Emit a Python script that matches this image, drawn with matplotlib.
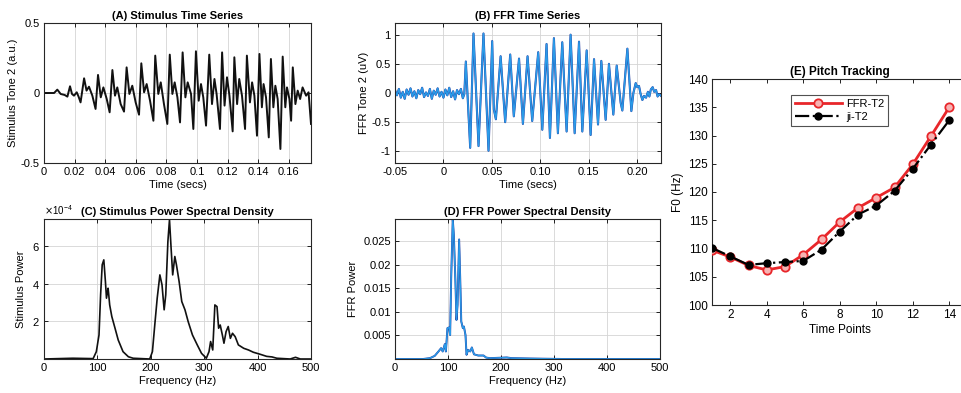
### Stimulus / FFR figure: time series, power spectra and pitch tracking

import numpy as np
import matplotlib.pyplot as plt
from matplotlib.ticker import ScalarFormatter

plt.rcParams['font.family'] = ['Liberation Sans', 'DejaVu Sans']

### DATA ###

# (A) stimulus waveform: key points (secs, a.u.)
stim_t = [0.0, 0.0066, 0.0087, 0.0109, 0.0135, 0.0153, 0.0170, 0.0183, 0.0196, 0.0214, 0.0226, 0.0239,
          0.0262, 0.0278, 0.0294, 0.0316, 0.0337, 0.0353, 0.0371, 0.0388, 0.0410, 0.0429, 0.0447, 0.0464,
          0.0479, 0.0501, 0.0523, 0.0540, 0.0558, 0.0577, 0.0599, 0.0621, 0.0636, 0.0654, 0.0671, 0.0693,
          0.0715, 0.0727, 0.0747, 0.0763, 0.0784, 0.0806, 0.0822, 0.0839, 0.0854, 0.0872,
          0.0889, 0.0906, 0.0924, 0.0939, 0.0961, 0.0976, 0.0993, 0.1011, 0.1026, 0.1041, 0.1059, 0.1080,
          0.1098, 0.1114, 0.1128, 0.1150, 0.1164, 0.1180, 0.1196, 0.1212, 0.1233, 0.1244, 0.1262, 0.1276,
          0.1294, 0.1314, 0.1326, 0.1346, 0.1360, 0.1375, 0.1392, 0.1408, 0.1424, 0.1435, 0.1451, 0.1469,
          0.1483, 0.1499, 0.1512, 0.1527, 0.1545, 0.1560, 0.1577, 0.1588, 0.1604, 0.1615, 0.1626, 0.1643,
          0.1658, 0.1674, 0.1690, 0.1713, 0.1729, 0.1745]
stim_v = [0.0, 0.0, 0.024, -0.007, -0.014, -0.026, 0.048, -0.007, -0.019, 0.005, -0.026, -0.067,
          0.105, 0.017, 0.045, -0.019, -0.114, 0.129, -0.031, 0.040, -0.043, -0.138, 0.164, -0.019,
          0.040, -0.079, -0.133, 0.183, -0.007, 0.052, -0.067, -0.155, 0.212, 0.005, 0.064, -0.055,
          -0.198, 0.267, -0.007, 0.076, -0.079, -0.221, 0.274, -0.007, 0.076, -0.031,
          -0.210, 0.290, -0.031, 0.076, -0.007, -0.257, 0.298, -0.055, 0.064, -0.031, -0.233, 0.274,
          -0.079, 0.100, -0.007, -0.257, 0.290, -0.090, 0.112, -0.019, -0.274, 0.255, -0.079, 0.100,
          -0.019, -0.257, 0.267, -0.067, 0.076, -0.019, -0.305, 0.279, -0.102, 0.064, -0.031, -0.317,
          0.243, -0.102, 0.052, -0.043, -0.400, 0.260, -0.102, 0.040, -0.043, -0.198, 0.183, -0.079,
          0.017, -0.043, 0.040, -0.019, 0.005, -0.221]

# (B) FFR waveform: key points (secs, uV)
ffr_t = [-0.050, -0.048, -0.046, -0.044, -0.042, -0.040, -0.038, -0.036, -0.034, -0.032, -0.030, -0.028,
         -0.026, -0.024, -0.022, -0.020, -0.018, -0.016, -0.014, -0.012, -0.010, -0.008, -0.006, -0.004,
         -0.002, 0.000, 0.002, 0.004, 0.006, 0.008, 0.010, 0.012, 0.014, 0.016, 0.018, 0.020,
         0.0215, 0.0231, 0.0276, 0.0310, 0.0362, 0.0413, 0.0465, 0.0503, 0.0520, 0.0541, 0.0590, 0.0637,
         0.0689, 0.0726, 0.0780, 0.0820, 0.0868, 0.0916, 0.0978, 0.1020, 0.1064, 0.1099, 0.1140, 0.1181,
         0.1226, 0.1271, 0.1312, 0.1354, 0.1399, 0.1433, 0.1478, 0.1519, 0.1554, 0.1595, 0.1629, 0.1674,
         0.1708, 0.1753, 0.1788, 0.1829, 0.1846, 0.1898, 0.1939,
         0.1960, 0.1984, 0.2000, 0.2018, 0.2035, 0.2053, 0.2070, 0.2091, 0.2110, 0.2125, 0.2140, 0.2159,
         0.2175, 0.2194, 0.2210, 0.2225, 0.2246]
ffr_v = [0.05, -0.04, 0.07, -0.08, 0.02, -0.10, 0.06, -0.03, 0.08, -0.06, 0.03, -0.09,
         0.05, -0.02, 0.09, -0.07, 0.01, -0.05, 0.07, -0.10, 0.04, -0.03, 0.08, -0.06,
         0.02, -0.08, 0.06, -0.04, 0.09, -0.07, 0.03, -0.11, 0.05, -0.02, 0.07, -0.09,
         -0.02, 0.54, -0.94, 1.02, -0.91, 1.02, -0.99, 0.89, -0.28, -0.45, 0.63, -0.50,
         0.66, -0.40, 0.59, -0.53, 0.63, -0.48, 0.70, -0.63, 0.84, -0.77, 0.94, -0.69,
         0.87, -0.66, 1.00, -0.69, 0.88, -0.66, 0.73, -0.72, 0.58, -0.54, 0.55, -0.46,
         0.50, -0.37, 0.47, -0.17, -0.30, 0.76, -0.31,
         0.00, 0.17, 0.10, 0.12, -0.02, -0.12, -0.05, -0.08, 0.02, -0.06, 0.06, 0.10,
         0.02, 0.05, -0.06, -0.02, -0.05]

# (C) stimulus power spectral density (Hz, x1e-4)
psd_c_f = [0, 54, 92, 98, 103, 106, 109, 112, 115, 117, 120, 121, 123, 127, 133, 139, 148, 158, 167, 198,
           203, 208, 212, 217, 221, 225, 228, 232, 235, 238, 241, 245, 248, 253, 258, 264, 270, 278, 287,
           295, 304, 309, 312, 316, 320, 324, 327, 330, 334, 337, 341, 345, 349, 353, 358, 364, 374, 383,
           392, 405, 417, 427, 436, 461, 471, 480, 500]
psd_c_p = [0, 0.04, 0.02, 0.39, 1.28, 3.42, 5.02, 5.28, 4.13, 3.24, 3.77, 3.5, 2.88, 2.26, 1.64, 1.01,
           0.39, 0.12, 0.04, 0, 0.39, 1.99, 3.24, 4.48, 3.95, 2.62, 3.42, 6.26, 7.42, 5.91, 4.48, 5.46,
           5.02, 4.13, 3.06, 2.62, 1.99, 1.28, 0.75, 0.3, 0.04, 0.39, 0.93, 0.48, 2.88, 2.79, 1.64, 1.81,
           1.28, 0.84, 1.46, 1.73, 1.10, 1.37, 1.19, 0.75, 0.57, 0.48, 0.36, 0.25, 0.14, 0.11, 0.04, 0,
           0.09, 0, 0]

# (D) FFR power spectral density (Hz, x1e-3)
psd_d_f = [0, 53, 66, 75, 82, 87, 90, 94, 96, 99, 102, 104, 106, 109, 111, 114, 116, 118, 121, 123,
           125, 128, 130, 133, 135, 138, 142, 145, 149, 157, 167, 172, 179, 211, 220, 255, 318, 500]
psd_d_p = [0, 0, 0.18, 0.67, 1.6, 2.3, 1.6, 3.16, 1.6, 6.56, 6.7, 5.1, 17.2, 29.6, 26.4, 16.5, 8.3,
           11.5, 25.4, 17.2, 8.0, 6.56, 6.9, 5.1, 0.9, 1.95, 1.6, 2.45, 1.0, 0.74, 0.74, 0.3, 0.18,
           0.32, 0.18, 0.1, 0, 0]

# (E) pitch tracking
time_points = list(range(1, 15))
ffr_f0 = [109.7, 108.5, 107.0, 106.2, 106.8, 108.9, 111.6, 114.7, 117.2, 119.0, 120.8, 124.9, 129.9, 135.0]
ji_f0 = [110.1, 108.6, 107.1, 107.4, 107.6, 107.8, 109.8, 113.0, 116.0, 117.6, 120.2, 124.1, 128.4, 132.7]

LIGHT_BLUE = '#2a9be8'
DARK_BLUE = '#24399f'
FS = 8


### HELPERS ###
def px_axes(fig, left, top, right, bottom, W=962, H=393):
    return fig.add_axes([left / W, 1 - bottom / H, (right - left) / W, (bottom - top) / H])


def matlab_style(ax, grid=True, fs=FS):
    ax.tick_params(direction='in', top=True, right=True, length=3, width=0.6, labelsize=fs, pad=3)
    for s in ax.spines.values():
        s.set_linewidth(0.8)
        s.set_color('#262626')
    if grid:
        ax.grid(True, color='#d4d4d4', lw=0.6)
        ax.set_axisbelow(True)


### FIGURE ###
fig = plt.figure(figsize=(9.62, 3.93), dpi=100)

# (A)
axA = px_axes(fig, 44, 23, 311, 163)
axA.plot(stim_t, stim_v, color='#111111', lw=1.4)
axA.set_xlim(0, 0.1745)
axA.set_ylim(-0.5, 0.5)
axA.set_xticks([0, 0.02, 0.04, 0.06, 0.08, 0.1, 0.12, 0.14, 0.16])
axA.set_xticklabels(['0', '0.02', '0.04', '0.06', '0.08', '0.1', '0.12', '0.14', '0.16'])
axA.set_yticks([-0.5, 0, 0.5])
axA.set_yticklabels(['-0.5', '0', '0.5'])
axA.set_title('(A) Stimulus Time Series', fontsize=FS, fontweight='bold', pad=3)
axA.set_xlabel('Time (secs)', fontsize=FS, labelpad=2)
axA.set_ylabel('Stimulus Tone 2 (a.u.)', fontsize=FS, labelpad=2)
matlab_style(axA)

# (B)
axB = px_axes(fig, 395, 23, 661, 163)
axB.plot(ffr_t, ffr_v, color=DARK_BLUE, lw=1.5)
axB.plot(ffr_t, ffr_v, color=LIGHT_BLUE, lw=1.1)
axB.set_xlim(-0.05, 0.2245)
axB.set_ylim(-1.2, 1.2)
axB.set_xticks([-0.05, 0, 0.05, 0.10, 0.15, 0.20])
axB.set_xticklabels(['-0.05', '0', '0.05', '0.10', '0.15', '0.20'])
axB.set_yticks([-1, -0.5, 0, 0.5, 1])
axB.set_yticklabels(['-1', '-0.5', '0', '0.5', '1'])
axB.set_title('(B) FFR Time Series', fontsize=FS, fontweight='bold', pad=3)
axB.set_xlabel('Time (secs)', fontsize=FS, labelpad=2)
axB.set_ylabel('FFR Tone 2 (uV)', fontsize=FS, labelpad=2)
matlab_style(axB)

# (C)
axC = px_axes(fig, 44, 219, 311, 359)
axC.plot(psd_c_f, np.array(psd_c_p) * 1e-4, color='#111111', lw=1.2)
axC.set_xlim(0, 500)
axC.set_ylim(0, max(psd_c_p) * 1.005e-4)
axC.set_xticks([0, 100, 200, 300, 400, 500])
axC.set_yticks([2e-4, 4e-4, 6e-4])
fmt = ScalarFormatter(useMathText=True)
fmt.set_powerlimits((-3, 3))
axC.yaxis.set_major_formatter(fmt)
axC.yaxis.get_offset_text().set_fontsize(FS - 1)
axC.set_title('(C) Stimulus Power Spectral Density', fontsize=FS, fontweight='bold', pad=3)
axC.set_xlabel('Frequency (Hz)', fontsize=FS, labelpad=2)
axC.set_ylabel('Stimulus Power', fontsize=FS, labelpad=4)
matlab_style(axC)

# (D)
axD = px_axes(fig, 395, 219, 660, 359)
axD.plot(psd_d_f, np.array(psd_d_p) * 1e-3, color=DARK_BLUE, lw=1.4)
axD.plot(psd_d_f, np.array(psd_d_p) * 1e-3, color=LIGHT_BLUE, lw=1.0)
axD.set_xlim(0, 500)
axD.set_ylim(0, max(psd_d_p) * 1.005e-3)
axD.set_xticks([0, 100, 200, 300, 400, 500])
axD.set_yticks([0.005, 0.01, 0.015, 0.02, 0.025])
axD.set_yticklabels(['0.005', '0.01', '0.015', '0.02', '0.025'])
axD.set_title('(D) FFR Power Spectral Density', fontsize=FS, fontweight='bold', pad=3)
axD.set_xlabel('Frequency (Hz)', fontsize=FS, labelpad=2)
axD.set_ylabel('FFR Power', fontsize=FS, labelpad=4)
matlab_style(axD)

# (E)
axE = px_axes(fig, 712, 79, 967.5, 305)
axE.plot(time_points, ffr_f0, color='#e8262a', lw=2.0, marker='o', ms=6,
         mfc='#f7b3b3', mec='#e8262a', mew=1.3, label='FFR-T2', zorder=3)
axE.plot(time_points, ji_f0, color='black', lw=1.6, ls='-.', marker='o', ms=5,
         mfc='black', mec='black', label='ji-T2', zorder=4)
axE.set_xlim(1, 15)
axE.set_ylim(100, 140)
axE.set_xticks([2, 4, 6, 8, 10, 12, 14])
axE.set_yticks([100, 105, 110, 115, 120, 125, 130, 135, 140])
axE.set_title('(E) Pitch Tracking', fontsize=8.5, fontweight='bold', pad=3)
axE.set_xlabel('Time Points', fontsize=8.5, labelpad=2)
axE.set_ylabel('F0 (Hz)', fontsize=8.5, labelpad=3)
matlab_style(axE, grid=False, fs=8.5)
leg = axE.legend(loc='upper left', bbox_to_anchor=(0.309, 0.93), fontsize=8, frameon=True,
                 fancybox=False, edgecolor='#262626', handlelength=4.2, borderpad=0.35,
                 labelspacing=0.3, handletextpad=0.4, borderaxespad=0)
leg.get_frame().set_linewidth(0.8)

fig.savefig('out.png', dpi=100)
